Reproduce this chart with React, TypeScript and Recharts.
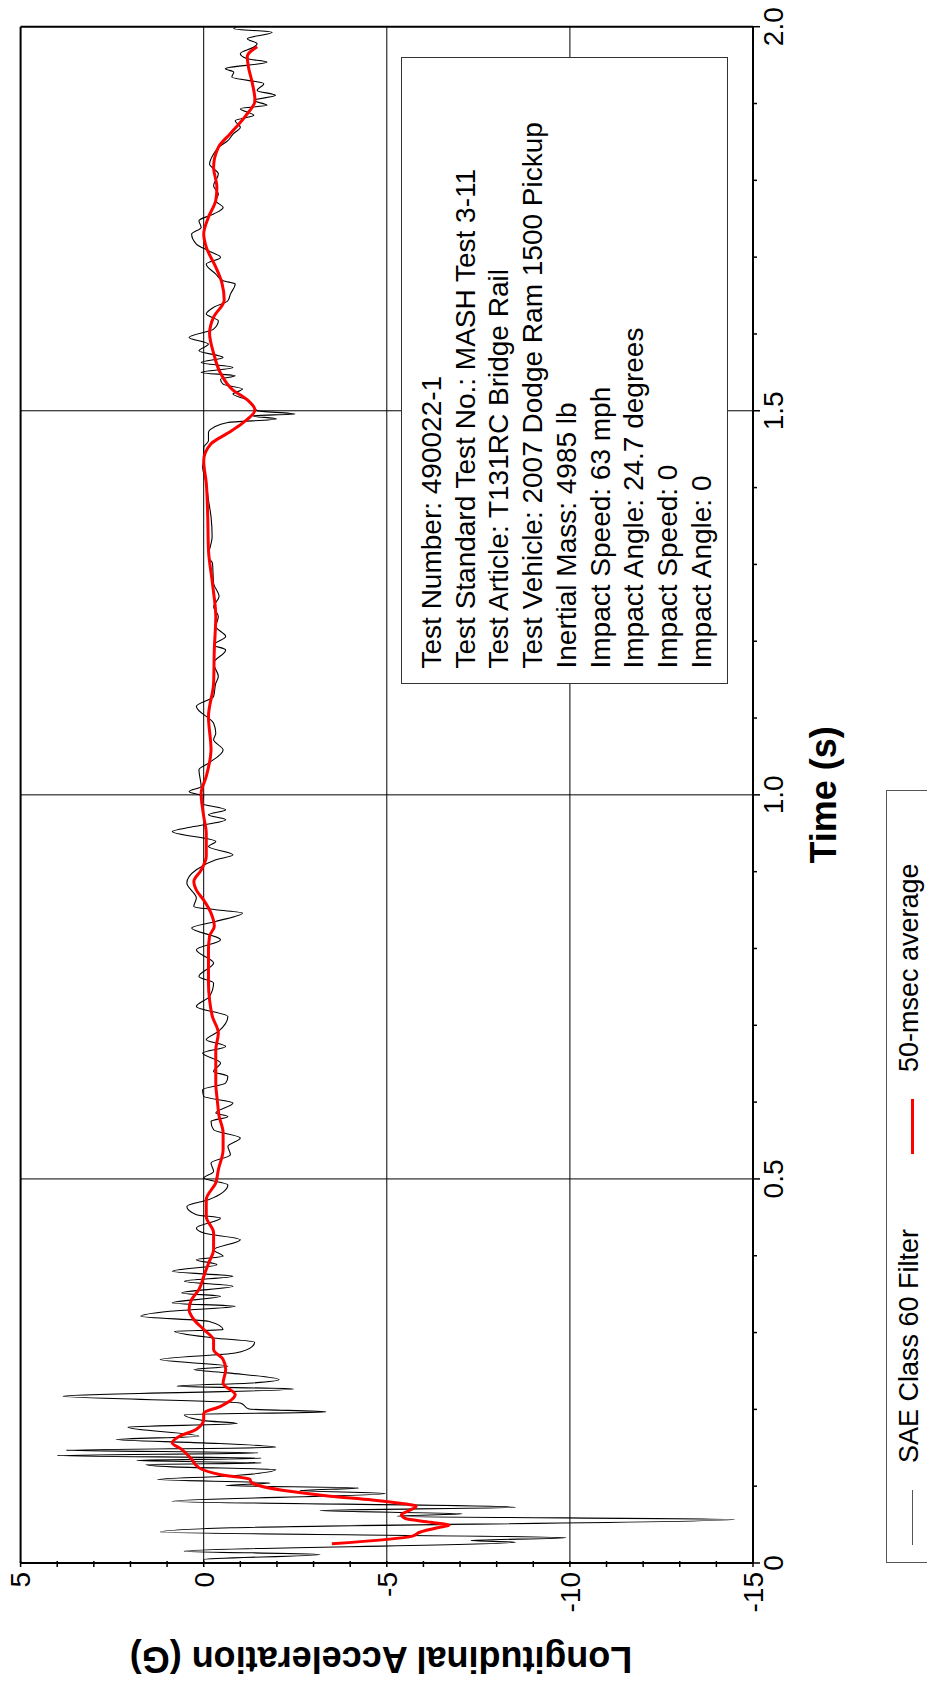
import { LineChart, Line, XAxis, YAxis, ReferenceLine } from "recharts";

// time axis ticks (s) and acceleration ticks (G)
const timeTicks = [0, 0.1, 0.2, 0.3, 0.4, 0.5, 0.6, 0.7, 0.8, 0.9, 1.0, 1.1, 1.2, 1.3, 1.4, 1.5, 1.6, 1.7, 1.8, 1.9, 2.0];
const accelTicks = [-15, -14, -13, -12, -11, -10, -9, -8, -7, -6, -5, -4, -3, -2, -1, 0, 1, 2, 3, 4, 5];
const timeGrid = [0.5, 1.0, 1.5];
const accelGrid = [0, -5, -10];

// SAE Class 60 filtered trace
const sae60Time = [
  0, 0.0046, 0.0111, 0.0154, 0.0271, 0.0293, 0.0328, 0.0402, 0.0458, 0.0566, 0.061, 0.064, 0.0683, 0.0727,
  0.0805, 0.0904, 0.0943, 0.0978, 0.1008, 0.1043, 0.1086, 0.1129, 0.1216, 0.1251, 0.1282, 0.1303, 0.1334,
  0.1364, 0.1399, 0.1434, 0.1468, 0.1507, 0.1564, 0.1607, 0.1651, 0.1768, 0.1816, 0.1854, 0.1932, 0.1967,
  0.2005, 0.2084, 0.217, 0.2266, 0.2301, 0.2344, 0.2388, 0.2475, 0.2518, 0.2561, 0.2648, 0.2734, 0.2821,
  0.2874, 0.293, 0.3017, 0.3038, 0.3147, 0.3212, 0.3277, 0.3342, 0.3386, 0.3472, 0.3516, 0.3602, 0.3667,
  0.3732, 0.3797, 0.3884, 0.3949, 0.3992, 0.4079, 0.4209, 0.4296, 0.436, 0.449, 0.4534, 0.4642, 0.4729,
  0.4924, 0.5011, 0.5098, 0.5207, 0.5316, 0.5424, 0.5532, 0.564, 0.5749, 0.5814, 0.5858, 0.5988, 0.6074,
  0.6161, 0.6248, 0.6335, 0.64, 0.6508, 0.6638, 0.6725, 0.6812, 0.692, 0.7115, 0.7245, 0.7376, 0.755,
  0.7636, 0.781, 0.7984, 0.8114, 0.8266, 0.8352, 0.8461, 0.8504, 0.8548, 0.8656, 0.8851, 0.9025, 0.9154,
  0.9219, 0.9327, 0.9393, 0.9522, 0.9587, 0.9676, 0.974, 0.9805, 0.9892, 0.9979, 1.0043, 1.0109, 1.0326,
  1.0412, 1.0585, 1.0716, 1.0802, 1.0932, 1.115, 1.128, 1.1453, 1.154, 1.1714, 1.1887, 1.1952, 1.2061,
  1.2191, 1.2321, 1.2451, 1.2581, 1.2755, 1.3015, 1.3102, 1.3362, 1.3622, 1.3839, 1.4056, 1.4273, 1.4349,
  1.4523, 1.461, 1.4718, 1.4783, 1.4848, 1.4892, 1.4935, 1.4957, 1.5, 1.5087, 1.5152, 1.5217, 1.5282,
  1.5347, 1.5412, 1.5456, 1.5499, 1.5564, 1.5629, 1.5694, 1.5781, 1.5868, 1.5955, 1.6063, 1.6172, 1.6259,
  1.6346, 1.6432, 1.6519, 1.665, 1.6693, 1.678, 1.691, 1.6997, 1.7083, 1.717, 1.73, 1.7387, 1.7474, 1.7561,
  1.7647, 1.7734, 1.7821, 1.793, 1.8082, 1.8212, 1.8342, 1.8429, 1.8516, 1.8603, 1.869, 1.8776, 1.8846,
  1.8933, 1.8976, 1.9041, 1.9106, 1.9171, 1.9258, 1.9345, 1.941, 1.9453, 1.954, 1.9583, 1.9648, 1.9735,
  1.9778, 1.9843, 1.9929, 1.9973, 2.0,
];
const sae60Accel = [
  0, 0, -3.18, 0.53, -8.51, -7.3, -9.89, 1.18, -0.76, -14.5, -5.28, -7.06, -3.18, -8.51,
  0.86, -4.96, -2.62, -4.23, -0.6, -1.81, 1.26, -0.52, -1.97, 0.86, 1.58, -1.57, 1.83,
  -1.57, 4.0, -1.49, 3.76, -1.97, 0, 2.39, 0.13, 2.07, -0.92, 0, 0.53, -3.34,
  -1.24, -1.0, 3.84, -2.46, 0.73, -1.33, -2.06, -0.66, 0.27, -0.66, 1.19, -0.86, -1.33,
  -1.39, -0.27, 0.8, -0.53, -0.13, 1.72, 0.93, -0.86, 0.86, -0.46, 0.6, -0.8, 0.53,
  -0.8, 0.86, -0.36, 0.2, -0.53, -0.27, -1.0, 0, 0.2, -0.46, 0.2, 0.46, -0.13,
  -0.66, 0, -0.27, -0.2, -0.73, -0.66, -1.0, -0.27, -0.2, -0.66, -0.33, -0.8, 0,
  0.03, -0.6, -0.66, -0.27, -0.46, 0.03, -0.6, -0.07, -0.4, -0.66, 0.2, -0.16, -0.27,
  0.13, -0.27, 0.2, -0.46, 0.33, -0.33, -1.06, -0.33, 0.27, 0.2, 0.46, 0.2, -0.33,
  -0.8, -0.13, -0.33, 0.86, 0.27, -0.6, -0.13, -0.6, 0.07, 0, 0.4, 0.07, 0.13,
  -0.13, -0.53, -0.27, -0.33, -0.27, 0.2, -0.27, -0.33, -0.4, -0.27, -0.6, -0.27, -0.6,
  -0.33, -0.4, -0.27, -0.42, -0.27, -0.24, -0.13, -0.23, -0.2, -0.13, -0.07, 0.03, 0,
  0, -0.13, -0.13, -0.27, -0.66, -1.99, -1.33, -2.49, -1.46, -1.33, -1.13, -0.8, -1.06,
  -0.53, -0.46, -0.86, 0.07, -0.8, 0.07, -0.53, 0.13, -0.13, 0.4, -0.27, -0.4, -0.07,
  -0.27, -0.66, -0.73, -0.86, -0.53, -0.33, -0.07, -0.46, -0.13, 0.2, 0.33, 0.07, 0.13, -0.27,
  -0.53, -0.33, -0.4, -0.27, -0.4, -0.16, -0.27, -0.4, -0.66, -0.8, -1.0, -0.86, -1.37,
  -1.0, -1.73, -1.37, -1.96, -1.46, -1.64, -0.77, -0.82, -0.59, -1.73, -1.19, -1.0, -1.37,
  -1.46, -1.19, -1.87, -0.82, -0.9,
];

// 50-msec moving average
const avgTime = [
  0.025, 0.035, 0.04, 0.046, 0.049, 0.053, 0.058, 0.063, 0.068, 0.074, 0.078, 0.082, 0.087, 0.093, 0.0996,
  0.105, 0.109, 0.115, 0.124, 0.135, 0.148, 0.1565, 0.165, 0.174, 0.187, 0.195, 0.204, 0.219, 0.234, 0.252,
  0.265, 0.278, 0.29, 0.304, 0.317, 0.33, 0.343, 0.356, 0.373, 0.39, 0.408, 0.43, 0.451, 0.473, 0.495,
  0.512, 0.538, 0.56, 0.582, 0.603, 0.625, 0.647, 0.668, 0.69, 0.711, 0.733, 0.755, 0.777, 0.798, 0.816,
  0.829, 0.846, 0.863, 0.876, 0.887, 0.902, 0.92, 0.95, 0.972, 1.002, 1.024, 1.059, 1.102, 1.145, 1.189,
  1.232, 1.275, 1.319, 1.362, 1.406, 1.435, 1.457, 1.471, 1.484, 1.501, 1.514, 1.527, 1.549, 1.575, 1.601,
  1.622, 1.644, 1.666, 1.687, 1.713, 1.73, 1.752, 1.774, 1.791, 1.817, 1.843, 1.861, 1.883, 1.904, 1.926,
  1.948, 1.961, 1.974,
];
const avgAccel = [
  -3.5, -5.7, -5.9, -6.4, -6.7, -6.2, -5.5, -5.4, -5.6, -5.8, -5.3, -4.6, -3.45, -2.4, -1.6,
  -1.3, -1.26, -0.46, 0.13, 0.33, 0.6, 0.86, 0.66, 0.2, 0, 0, -0.46, -0.86, -0.53, -0.6,
  -0.53, -0.27, -0.27, 0, 0.27, 0.4, 0.33, 0.13, 0, -0.13, -0.27, -0.27, -0.07, -0.07, -0.33,
  -0.4, -0.53, -0.53, -0.42, -0.37, -0.33, -0.33, -0.33, -0.4, -0.24, -0.16, -0.13, -0.13, -0.13, -0.16,
  -0.29, -0.2, 0, 0.2, 0.27, 0.07, -0.07, -0.07, 0, 0.07, -0.07, -0.2, -0.13, -0.27, -0.29,
  -0.33, -0.24, -0.13, -0.11, -0.07, 0, -0.2, -0.66, -1.06, -1.4, -1.2, -0.8, -0.46, -0.27, -0.16,
  -0.27, -0.56, -0.5, -0.33, -0.07, 0, -0.13, -0.33, -0.36, -0.27, -0.4, -0.73, -1.13, -1.4, -1.33,
  -1.22, -1.19, -1.46,
];

const seriesNames = ["SAE Class 60 Filter", "50-msec average"];
const infoLines = [
  "Test Number: 490022-1",
  "Test Standard Test No.: MASH Test 3-11",
  "Test Article: T131RC Bridge Rail",
  "Test Vehicle: 2007 Dodge Ram 1500 Pickup",
  "Inertial Mass: 4985 lb",
  "Impact Speed: 63 mph",
  "Impact Angle: 24.7 degrees",
  "Impact Speed: 0",
  "Impact Angle: 0",
];

const FONT = "'Liberation Sans', Arial, Helvetica, sans-serif";
const W = 1682;
const H = 927;

const sae60Data = sae60Time.map((t, i) => ({ t, a: sae60Accel[i] }));
const avgData = avgTime.map((t, i) => ({ t, a: avgAccel[i] }));

const TimeTick = (props: any) => {
  const { x, y, payload } = props;
  const v = payload.value;
  const major = Math.abs(v * 2 - Math.round(v * 2)) < 1e-6;
  return (
    <g>
      <line x1={x} y1={y} x2={x} y2={y + (major ? 7 : 4)} stroke="#000" strokeWidth={1.5} />
      {major && (
        <text x={x} y={y + 30} textAnchor="middle" fontSize={28} fill="#000" fontFamily={FONT}>
          {v === 0 ? "0" : v.toFixed(1)}
        </text>
      )}
    </g>
  );
};

const AccelTick = (props: any) => {
  const { x, y, payload } = props;
  const v = payload.value;
  const major = v % 5 === 0;
  return (
    <g>
      <line x1={x - 4} y1={y} x2={x + 2} y2={y} stroke="#000" strokeWidth={1.5} />
      {major && (
        <text x={x - 9} y={y} dy="0.35em" textAnchor="end" fontSize={28} fill="#000" fontFamily={FONT}>
          {v}
        </text>
      )}
    </g>
  );
};

const Chart = () => (
  <LineChart width={W} height={H} margin={{ top: 20.6, right: 26.7, bottom: 114, left: 59 }}>
    {timeGrid.map((t) => (
      <ReferenceLine key={"t" + t} x={t} stroke="#000" strokeWidth={1} />
    ))}
    {accelGrid.map((a) => (
      <ReferenceLine key={"a" + a} y={a} stroke="#000" strokeWidth={1} />
    ))}
    <ReferenceLine y={5} stroke="#000" strokeWidth={2} />
    <ReferenceLine x={2} stroke="#000" strokeWidth={2} />
    <XAxis
      type="number"
      dataKey="t"
      domain={[0, 2]}
      ticks={timeTicks}
      interval={0}
      tickSize={0}
      tickMargin={0}
      tickLine={false}
      tick={<TimeTick />}
      axisLine={{ stroke: "#000", strokeWidth: 2 }}
      height={60}
      label={{
        content: (p: any) => {
          const vb = p.viewBox || { x: 119, width: 1536 };
          return (
            <text x={vb.x + vb.width / 2} y={836} textAnchor="middle" fontSize={36} fontWeight="bold" fill="#000" fontFamily={FONT}>
              Time (s)
            </text>
          );
        },
      }}
    />
    <YAxis
      type="number"
      domain={[-15, 5]}
      ticks={accelTicks}
      interval={0}
      tickSize={0}
      tickMargin={0}
      tickLine={false}
      tick={<AccelTick />}
      axisLine={{ stroke: "#000", strokeWidth: 2 }}
      width={60}
      label={{
        content: () => (
          <text x={35} y={381} transform="rotate(-90 35 381)" textAnchor="middle" fontSize={36} fontWeight="bold" fill="#000" fontFamily={FONT}>
            Longitudinal Acceleration (G)
          </text>
        ),
      }}
    />
    <Line data={sae60Data} dataKey="a" name={seriesNames[0]} type="monotone" stroke="#000" strokeWidth={1.1} dot={false} isAnimationActive={false} />
    <Line data={avgData} dataKey="a" name={seriesNames[1]} type="monotone" stroke="#ff0000" strokeWidth={3} dot={false} isAnimationActive={false} />
  </LineChart>
);

const InfoBox = () => (
  <div
    style={{
      position: "absolute",
      left: 998,
      top: 401,
      width: 627,
      height: 327,
      boxSizing: "border-box",
      border: "1.5px solid #333",
      background: "#fff",
      padding: "13px 0 0 14.5px",
      fontFamily: FONT,
      fontSize: 28,
      lineHeight: "33.7px",
      color: "#000",
      whiteSpace: "nowrap",
    }}
  >
    {infoLines.map((l, i) => (
      <div key={i}>{l}</div>
    ))}
  </div>
);

const LegendBox = () => (
  <div
    style={{
      position: "absolute",
      left: 119,
      top: 886,
      width: 773,
      height: 90,
      boxSizing: "border-box",
      border: "1.5px solid #555",
      background: "#fff",
      fontFamily: FONT,
      fontSize: 27,
      color: "#000",
    }}
  >
    <div style={{ position: "absolute", left: 17, top: 24.5, width: 55, height: 1.5, background: "#555" }} />
    <div style={{ position: "absolute", left: 99, top: 4, lineHeight: "36px", whiteSpace: "nowrap" }}>{seriesNames[0]}</div>
    <div style={{ position: "absolute", left: 408, top: 23.5, width: 55, height: 3, background: "#ff0000" }} />
    <div style={{ position: "absolute", left: 490, top: 4, lineHeight: "36px", whiteSpace: "nowrap" }}>{seriesNames[1]}</div>
  </div>
);

export default function App() {
  return (
    <div style={{ position: "absolute", left: 0, top: 0, width: 927, height: 1682, overflow: "hidden", background: "#fff" }}>
      <div
        style={{
          position: "absolute",
          left: 0,
          top: 0,
          width: W,
          height: H,
          transformOrigin: "0 0",
          transform: "translate(0px, 1682px) rotate(-90deg)",
          fontFamily: FONT,
        }}
      >
        <Chart />
        <InfoBox />
        <LegendBox />
      </div>
    </div>
  );
}
